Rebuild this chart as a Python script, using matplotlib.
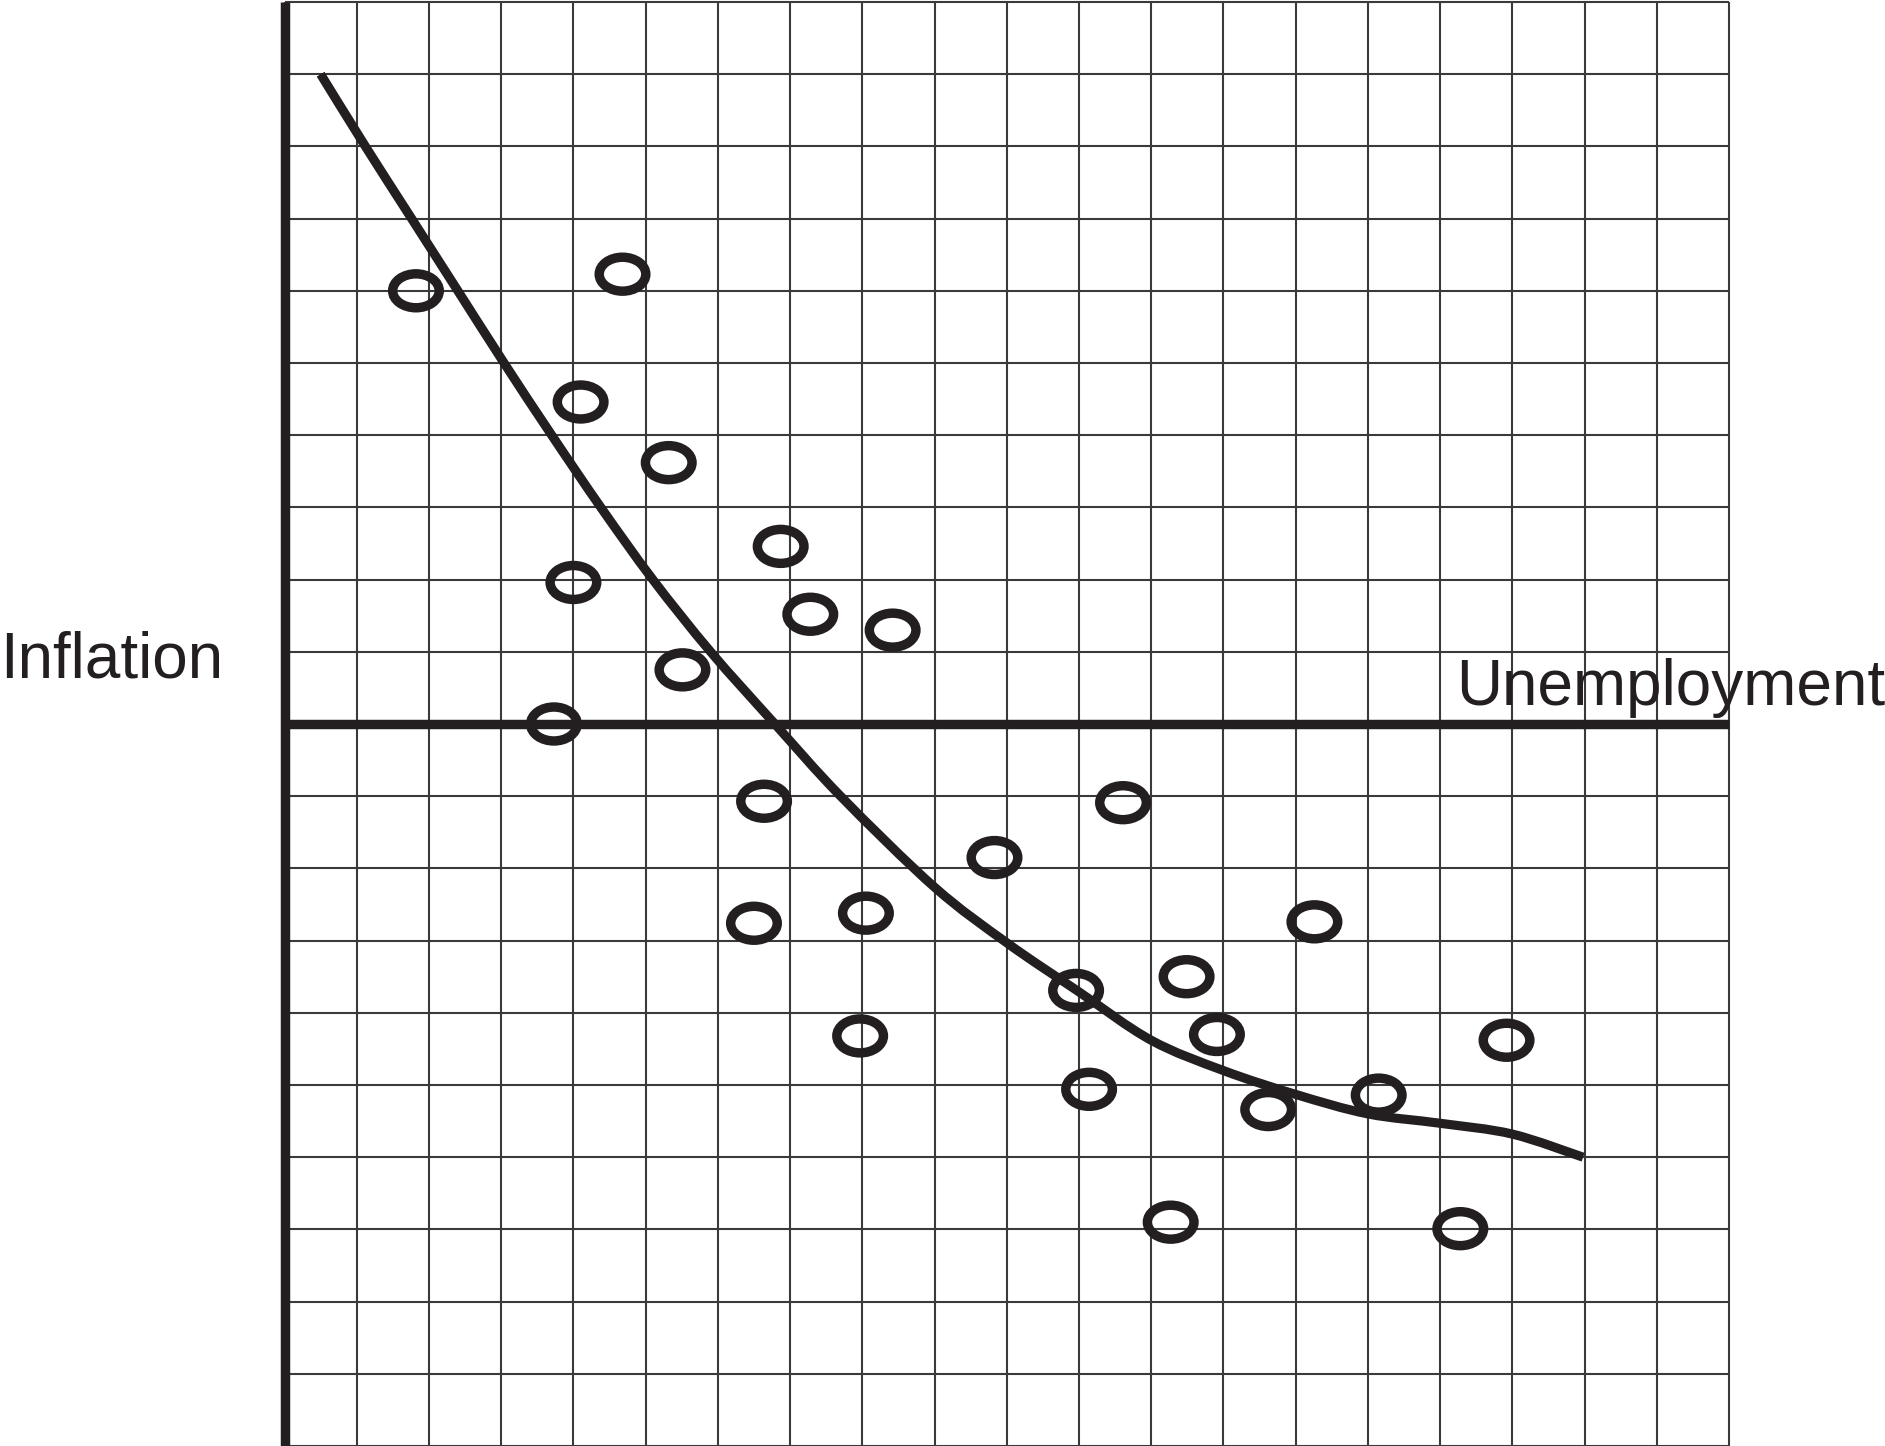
import matplotlib
matplotlib.use("Agg")
import matplotlib.pyplot as plt
from matplotlib.patches import Ellipse, PathPatch
from matplotlib.path import Path

# Data (grid units: x = unemployment, y = inflation)
point_x = [1.82, 4.68, 4.10, 5.32, 6.87, 4.00, 7.28, 8.42, 5.51, 3.73,
           6.64, 11.61, 9.83, 6.50, 8.05, 14.26, 12.49, 10.96, 12.91, 7.97,
           16.92, 11.14, 15.15, 13.62, 12.27, 16.28]
point_y = [6.00, 6.23, 4.46, 3.62, 2.46, 1.96, 1.52, 1.30, 0.75, 0.00,
           -1.07, -1.09, -1.85, -2.76, -2.62, -2.74, -3.50, -3.69, -4.30, -4.32,
           -4.38, -5.06, -5.14, -5.34, -6.90, -6.99]

curve_x = [0.5, 1.12, 1.76, 2.40, 3.04, 3.70, 4.38, 5.10, 5.90, 6.79, 7.70,
           9.0, 10.0, 11.0, 12.0, 13.0, 14.0, 15.0, 16.0, 17.0, 17.98]
curve_y = [9.0, 8.0, 7.0, 6.0, 5.0, 4.0, 3.0, 2.0, 1.0, 0.0, -1.0,
           -2.26, -3.03, -3.71, -4.38, -4.80, -5.13, -5.40, -5.53, -5.68, -6.0]

grid_x = list(range(0, 21))
grid_y = list(range(-10, 11))

x_label = "Unemployment"
y_label = "Inflation"

INK = "#231f20"
GRID = "#3a3a3a"

W, H = 1885, 1446
fig = plt.figure(figsize=(W / 100, H / 100), dpi=100)
fig.patch.set_facecolor("white")

left = 284.5 / W
width = (1729 - 284.5) / W
ax = fig.add_axes([left, 0, width, 1444 / H])
ax.set_xlim(0, 20)
ax.set_ylim(-10, 10)
ax.set_axis_off()

ax.vlines(grid_x, -10, 10, colors=GRID, linewidth=1.5, clip_on=False, zorder=1)
ax.hlines(grid_y, 0, 20, colors=GRID, linewidth=1.5, clip_on=False, zorder=1)

# main axes lines
ax.plot([0, 0], [-10, 10], color=INK, linewidth=6.8, solid_capstyle="butt",
        clip_on=False, zorder=3)
ax.plot([0, 20], [0, 0], color=INK, linewidth=6.8, solid_capstyle="butt",
        clip_on=False, zorder=3)

# fitted curve: smooth path through the read points (Catmull-Rom -> Bezier)
pts = list(zip(curve_x, curve_y))
verts = [pts[0]]
codes = [Path.MOVETO]
n = len(pts)
for i in range(n - 1):
    p0 = pts[i - 1] if i > 0 else pts[i]
    p1 = pts[i]
    p2 = pts[i + 1]
    p3 = pts[i + 2] if i + 2 < n else pts[i + 1]
    c1 = (p1[0] + (p2[0] - p0[0]) / 6.0, p1[1] + (p2[1] - p0[1]) / 6.0)
    c2 = (p2[0] - (p3[0] - p1[0]) / 6.0, p2[1] - (p3[1] - p1[1]) / 6.0)
    verts += [c1, c2, p2]
    codes += [Path.CURVE4, Path.CURVE4, Path.CURVE4]
ax.add_patch(PathPatch(Path(verts, codes), facecolor="none", edgecolor=INK,
                       linewidth=6.6, capstyle="butt", joinstyle="round",
                       zorder=4))

# data points as open ellipses
for px, py in zip(point_x, point_y):
    ax.add_patch(Ellipse((px, py), width=0.645, height=0.47, fill=False,
                         edgecolor=INK, linewidth=6.8, zorder=5))

fig.text(0.0, 1 - 677 / H, y_label, ha="left", va="baseline",
         fontsize=46, family="Liberation Sans", color=INK)
fig.text(1.0, 1 - 705 / H, x_label, ha="right", va="baseline",
         fontsize=46, family="Liberation Sans", color=INK)

fig.savefig("out.png", dpi=100, facecolor="white")
